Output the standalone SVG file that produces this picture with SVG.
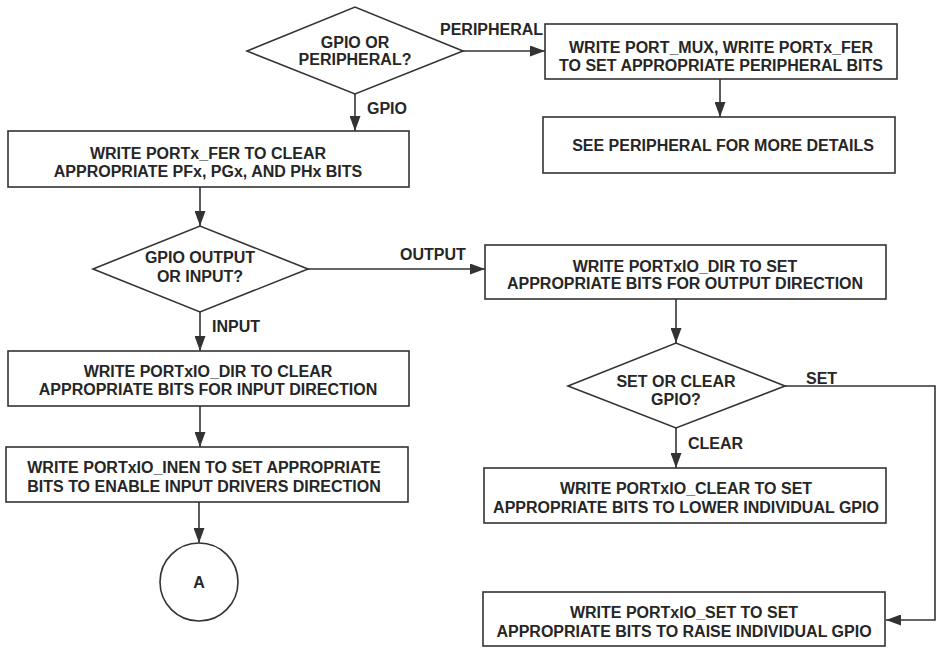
<svg xmlns="http://www.w3.org/2000/svg" width="936" height="648" viewBox="0 0 936 648">
<style>
.box{fill:#fff;stroke:#333;stroke-width:1.6}
.ln{fill:none;stroke:#333;stroke-width:1.6}
text{font-family:"Liberation Sans",Arial,sans-serif;font-weight:bold;font-size:16px;fill:#262626}
.c{text-anchor:middle}
</style>
<defs>
<marker id="ah" markerUnits="userSpaceOnUse" markerWidth="15" markerHeight="11" refX="15" refY="5.5" orient="auto">
<path d="M0,0 L15,5.5 L0,11 z" fill="#333"/>
</marker>
</defs>
<rect width="936" height="648" fill="#fff"/>
<g id="connectors">
<line class="ln" x1="355" y1="94" x2="355" y2="131" marker-end="url(#ah)"/>
<line class="ln" x1="463" y1="51" x2="545" y2="51" marker-end="url(#ah)"/>
<line class="ln" x1="720" y1="79" x2="720" y2="117" marker-end="url(#ah)"/>
<line class="ln" x1="200" y1="187" x2="200" y2="226" marker-end="url(#ah)"/>
<line class="ln" x1="308" y1="269" x2="485" y2="269" marker-end="url(#ah)"/>
<line class="ln" x1="200" y1="312" x2="200" y2="351" marker-end="url(#ah)"/>
<line class="ln" x1="200" y1="406" x2="200" y2="447" marker-end="url(#ah)"/>
<line class="ln" x1="199" y1="502" x2="199" y2="543" marker-end="url(#ah)"/>
<line class="ln" x1="676" y1="299" x2="676" y2="343" marker-end="url(#ah)"/>
<line class="ln" x1="676" y1="428" x2="676" y2="468" marker-end="url(#ah)"/>
<polyline class="ln" points="785,386 935,386 935,620 886,620" marker-end="url(#ah)"/>
<text x="440" y="35">PERIPHERAL</text>
<text x="367" y="114">GPIO</text>
<text x="400" y="260">OUTPUT</text>
<text x="212" y="332">INPUT</text>
<text x="806" y="384">SET</text>
<text x="688" y="449">CLEAR</text>
</g>
<g id="d1">
<polygon class="box" points="247,51 355,7 463,51 355,94"/>
<text class="c" x="355" y="48">GPIO OR</text>
<text class="c" x="355" y="65">PERIPHERAL?</text>
</g>
<g id="b1">
<rect class="box" x="8" y="131" width="401" height="56"/>
<text class="c" x="208" y="159">WRITE PORTx_FER TO CLEAR</text>
<text class="c" x="208" y="177">APPROPRIATE PFx, PGx, AND PHx BITS</text>
</g>
<g id="b2">
<rect class="box" x="545" y="24" width="352" height="55"/>
<text class="c" x="721" y="53">WRITE PORT_MUX, WRITE PORTx_FER</text>
<text class="c" x="721" y="71">TO SET APPROPRIATE PERIPHERAL BITS</text>
</g>
<g id="b3">
<rect class="box" x="543" y="117" width="352" height="56"/>
<text class="c" x="723" y="151">SEE PERIPHERAL FOR MORE DETAILS</text>
</g>
<g id="d2">
<polygon class="box" points="93,269 200,226 308,269 200,312"/>
<text class="c" x="200" y="263">GPIO OUTPUT</text>
<text class="c" x="200" y="282">OR INPUT?</text>
</g>
<g id="b4">
<rect class="box" x="485" y="245" width="401" height="54"/>
<text class="c" x="685" y="272">WRITE PORTxIO_DIR TO SET</text>
<text class="c" x="685" y="289">APPROPRIATE BITS FOR OUTPUT DIRECTION</text>
</g>
<g id="b5">
<rect class="box" x="8" y="351" width="401" height="55"/>
<text class="c" x="208" y="377">WRITE PORTxIO_DIR TO CLEAR</text>
<text class="c" x="208" y="395">APPROPRIATE BITS FOR INPUT DIRECTION</text>
</g>
<g id="d3">
<polygon class="box" points="568,386 676,343 785,386 676,428"/>
<text class="c" x="676" y="387">SET OR CLEAR</text>
<text class="c" x="676" y="405">GPIO?</text>
</g>
<g id="b8">
<rect class="box" x="6" y="447" width="402" height="55"/>
<text class="c" x="204" y="473">WRITE PORTxIO_INEN TO SET APPROPRIATE</text>
<text class="c" x="204" y="492">BITS TO ENABLE INPUT DRIVERS DIRECTION</text>
</g>
<g id="b6">
<rect class="box" x="484" y="468" width="402" height="55"/>
<text class="c" x="686" y="494">WRITE PORTxIO_CLEAR TO SET</text>
<text class="c" x="686" y="513">APPROPRIATE BITS TO LOWER INDIVIDUAL GPIO</text>
</g>
<g id="b7">
<rect class="box" x="483" y="592" width="402" height="54"/>
<text class="c" x="684" y="618">WRITE PORTxIO_SET TO SET</text>
<text class="c" x="684" y="637">APPROPRIATE BITS TO RAISE INDIVIDUAL GPIO</text>
</g>
<g id="cA">
<circle class="box" cx="199" cy="582" r="39"/>
<text class="c" x="199" y="588">A</text>
</g>
</svg>
